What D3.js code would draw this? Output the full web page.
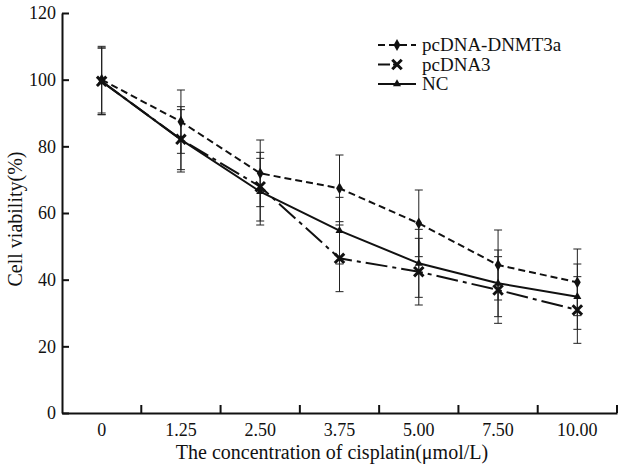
<!DOCTYPE html>
<html><head><meta charset="utf-8">
<script src="https://cdn.jsdelivr.net/npm/d3@7"></script>
<style>body{margin:0;background:#fff}svg{display:block}text{font-family:"Liberation Serif","Times New Roman",serif;fill:#111}</style>
</head><body><svg id="c" width="618" height="467"></svg>
<script>
const categories = ["0","1.25","2.50","3.75","5.00","7.50","10.00"];
const yTicks = [0,20,40,60,80,100,120];
const dnmt3a = [100, 87.4, 71.9, 67.4, 56.9, 44.4, 39.2];
const dnmt3aErr = [10, 9.5, 10, 10, 10, 10.5, 10];
const pcdna3 = [99.5, 82.1, 67.9, 46.4, 42.4, 36.9, 30.9];
const pcdna3Err = [10, 9.8, 10.3, 10, 10, 10, 10];
const nc = [99.5, 82, 66.4, 54.7, 44.9, 38.9, 34.9];
const ncErr = [10, 9, 10, 10, 10.2, 10, 9.8];
const seriesNames = ["pcDNA-DNMT3a","pcDNA3","NC"];

const svg = d3.select("#c");
const x = d3.scaleBand().domain(categories).range([62, 617]).padding(0);
const y = d3.scaleLinear().domain([0, 120]).range([413, 13]);
const cx = c => x(c) + x.bandwidth() / 2;

const series = [
  {name: seriesNames[0], vals: dnmt3a, err: dnmt3aErr, dash: "7,4", marker: "diamond"},
  {name: seriesNames[1], vals: pcdna3, err: pcdna3Err, dash: "22,5,4,5", marker: "x"},
  {name: seriesNames[2], vals: nc, err: ncErr, dash: null, marker: "triangle"}
];

// error bars
series.forEach(s => {
  const g = svg.append("g").attr("stroke", "#222").attr("stroke-width", 1);
  categories.forEach((c, i) => {
    const top = y(s.vals[i] + s.err[i]), bot = y(s.vals[i] - s.err[i]);
    g.append("line").attr("x1", cx(c)).attr("x2", cx(c)).attr("y1", top).attr("y2", bot);
    g.append("line").attr("x1", cx(c) - 4).attr("x2", cx(c) + 4).attr("y1", top).attr("y2", top);
    g.append("line").attr("x1", cx(c) - 4).attr("x2", cx(c) + 4).attr("y1", bot).attr("y2", bot);
  });
});

function drawMarker(g, type, px, py) {
  if (type === "diamond") {
    g.append("path").attr("d", d3.symbol(d3.symbolDiamond, 40)()).attr("transform", `translate(${px},${py})`).attr("fill", "#111");
  } else if (type === "x") {
    g.append("path").attr("d", d3.symbol(d3.symbolX, 60)()).attr("transform", `translate(${px},${py})`).attr("stroke", "#111").attr("stroke-width", 3).attr("fill", "none");
  } else {
    g.append("path").attr("d", d3.symbol(d3.symbolTriangle, 28)()).attr("transform", `translate(${px},${py})`).attr("fill", "#111");
  }
}

const line = d3.line().x((d, i) => cx(categories[i])).y(d => y(d));
series.forEach(s => {
  const p = svg.append("path").datum(s.vals).attr("d", line).attr("fill", "none")
    .attr("stroke", "#111").attr("stroke-width", 2);
  if (s.dash) p.attr("stroke-dasharray", s.dash);
  const g = svg.append("g");
  s.vals.forEach((v, i) => drawMarker(g, s.marker, cx(categories[i]), y(v)));
});

// axes
const yAxis = d3.axisLeft(y).tickValues(yTicks).tickSizeInner(-7).tickSizeOuter(0).tickPadding(6);
const yg = svg.append("g").attr("transform", "translate(62,0)").call(yAxis);
yg.select(".domain").attr("stroke", "#111").attr("stroke-width", 2);
yg.selectAll(".tick line").attr("stroke", "#111").attr("stroke-width", 2);
yg.selectAll("text").style("font-size", "18px").attr("fill", "#111");

const xAxis = d3.axisBottom(x).tickSize(0).tickPadding(10);
const xg = svg.append("g").attr("transform", "translate(0,413)").call(xAxis);
xg.select(".domain").attr("stroke", "#111").attr("stroke-width", 2);
xg.selectAll("text").style("font-size", "18px").attr("fill", "#111");
categories.forEach(c => {
  const bx = x(c) + x.bandwidth();
  svg.append("line").attr("x1", bx).attr("x2", bx).attr("y1", 413).attr("y2", 405)
    .attr("stroke", "#111").attr("stroke-width", 2);
});

svg.append("text").attr("x", 332).attr("y", 459).attr("text-anchor", "middle")
  .style("font-size", "20px").text("The concentration of cisplatin(μmol/L)");
svg.append("text").attr("transform", "translate(22,219) rotate(-90)").attr("text-anchor", "middle")
  .style("font-size", "20px").text("Cell viability(%)");

// legend
series.forEach((s, i) => {
  const ly = 45 + i * 19.5;
  const g = svg.append("g");
  const l = g.append("line").attr("x1", 378).attr("x2", 416).attr("y1", ly).attr("y2", ly)
    .attr("stroke", "#111").attr("stroke-width", 2);
  if (s.dash) l.attr("stroke-dasharray", i === 1 ? "12,3,4,30" : "7,4");
  drawMarker(g, s.marker, 397, ly);
  g.append("text").attr("x", 422).attr("y", ly + 6).style("font-size", "19px").text(s.name);
});
</script></body></html>
